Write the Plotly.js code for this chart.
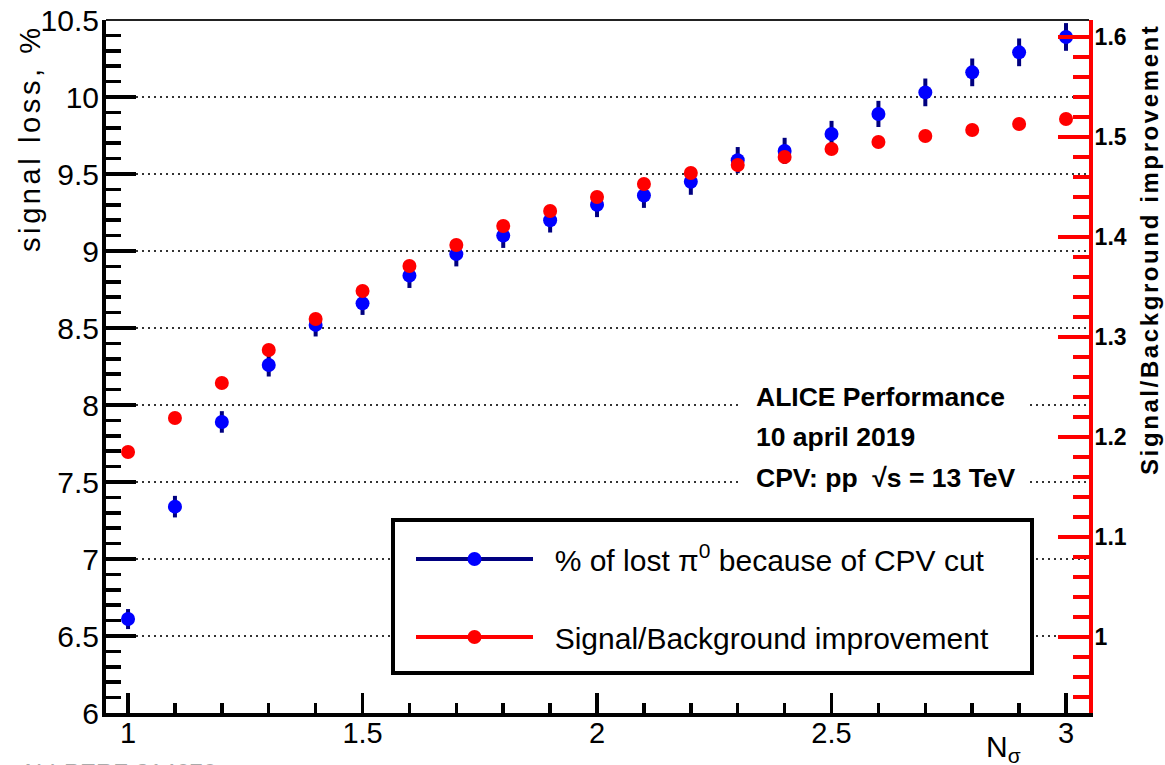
<!DOCTYPE html>
<html>
<head>
<meta charset="utf-8">
<script src="https://cdn.plot.ly/plotly-3.0.1.min.js"></script>
<style>
html,body{margin:0;padding:0;background:#fff;}
#chart{width:1165px;height:765px;}
</style>
</head>
<body>
<div id="chart"></div>
<script>
// ---- data ----
const nSigma = [1.0, 1.1, 1.2, 1.3, 1.4, 1.5, 1.6, 1.7, 1.8, 1.9, 2.0, 2.1, 2.2, 2.3, 2.4, 2.5, 2.6, 2.7, 2.8, 2.9, 3.0];
const signalLoss = [6.61, 7.34, 7.89, 8.26, 8.52, 8.66, 8.84, 8.98, 9.10, 9.20, 9.30, 9.36, 9.45, 9.59, 9.65, 9.76, 9.89, 10.03, 10.16, 10.29, 10.39];
const signalLossErr = [0.065, 0.07, 0.07, 0.075, 0.075, 0.075, 0.08, 0.08, 0.08, 0.08, 0.08, 0.08, 0.085, 0.085, 0.085, 0.085, 0.085, 0.09, 0.09, 0.09, 0.09];
const sbImprovement = [1.185, 1.219, 1.254, 1.287, 1.318, 1.346, 1.371, 1.392, 1.411, 1.426, 1.440, 1.453, 1.464, 1.472, 1.480, 1.488, 1.495, 1.501, 1.507, 1.513, 1.518];

const xTickVals = [1, 1.5, 2, 2.5, 3];
const xTickText = ["1", "1.5", "2", "2.5", "3"];
const yTickVals = [6, 6.5, 7, 7.5, 8, 8.5, 9, 9.5, 10, 10.5];
const yTickText = ["6", "6.5", "7", "7.5", "8", "8.5", "9", "9.5", "10", "10.5"];
const y2TickVals = [1.0, 1.1, 1.2, 1.3, 1.4, 1.5, 1.6];
const y2TickText = ["1", "1.1", "1.2", "1.3", "1.4", "1.5", "1.6"];

const seriesNames = ["% of lost \u03c0<sup>0</sup> because of CPV cut", "Signal/Background improvement"];
const labelTexts = ["<b>ALICE Performance</b>", "<b>10 april 2019</b>", "<b>CPV: pp  \u221as = 13 TeV</b>"];

// ---- geometry (pixels of the 1165x765 page) ----
const W = 1165, H = 765;
const L = 106, R = 1089, T = 20, B = 713;
const px = v => (v - L) / (R - L);
const py = v => (B - v) / (B - T);

const FONT = "Liberation Sans, Arial, Helvetica, sans-serif";
const PAD = "\u00a0\u00a0";

const traces = [
  {
    x: nSigma, y: signalLoss, type: "scatter", mode: "markers",
    marker: {color: "#0000ff", size: 14, line: {width: 0}},
    error_y: {type: "data", array: signalLossErr, visible: true, color: "#000080", thickness: 4, width: 0},
    showlegend: false, xaxis: "x", yaxis: "y"
  },
  {
    x: nSigma, y: sbImprovement, type: "scatter", mode: "markers",
    marker: {color: "#ff0000", size: 14, line: {width: 0}},
    showlegend: false, xaxis: "x", yaxis: "y2"
  },
  // legend entries
  {
    x: [null], y: [null], type: "scatter", mode: "lines+markers", name: PAD + seriesNames[0],
    line: {color: "#000080", width: 4}, marker: {color: "#0000ff", size: 14},
    legendgroup: "a", showlegend: true
  },
  {
    x: [null], y: [null], type: "scatter", mode: "lines+markers", name: PAD + seriesNames[1],
    line: {color: "#ff0000", width: 4}, marker: {color: "#ff0000", size: 14},
    legendgroup: "b", showlegend: true
  }
];

const layout = {
  width: W, height: H,
  margin: {l: L, r: W - R, t: T, b: H - B, pad: 0},
  paper_bgcolor: "#ffffff", plot_bgcolor: "#ffffff",
  font: {family: FONT, color: "#000000", size: 29},
  showlegend: true,
  xaxis: {
    range: [0.953, 3.049], tickmode: "array", tickvals: xTickVals, ticktext: xTickText,
    ticks: "inside", ticklen: 20, tickwidth: 3.5, tickcolor: "#000",
    showline: true, linewidth: 4, linecolor: "#000", showgrid: false, zeroline: false,
    tickfont: {size: 29, family: FONT}, ticklabelstandoff: -9,
    minor: {dtick: 0.1, tick0: 0, ticks: "inside", ticklen: 10, tickwidth: 3.5, tickcolor: "#000", showgrid: false}
  },
  yaxis: {
    range: [6, 10.5], tickmode: "array", tickvals: yTickVals, ticktext: yTickText,
    ticks: "inside", ticklen: 30, tickwidth: 3.5, tickcolor: "#000",
    showline: true, linewidth: 4, linecolor: "#000", zeroline: false,
    showgrid: true, gridcolor: "#333", gridwidth: 1.5, griddash: "2px,4px",
    tickfont: {size: 30, family: FONT}, ticklabelstandoff: -3,
    minor: {dtick: 0.1, tick0: 0, ticks: "inside", ticklen: 15, tickwidth: 3.5, tickcolor: "#000", showgrid: false}
  },
  yaxis2: {
    overlaying: "y", side: "right", anchor: "x",
    range: [0.924, 1.617], tickmode: "array", tickvals: y2TickVals, ticktext: y2TickText,
    ticks: "inside", ticklen: 31, tickwidth: 3.5, tickcolor: "#ff0000",
    showline: true, linewidth: 4, linecolor: "#ff0000", zeroline: false, showgrid: false,
    tickfont: {size: 23, family: FONT, weight: "bold"}, ticklabelstandoff: -3,
    minor: {dtick: 0.02, tick0: 0, ticks: "inside", ticklen: 16, tickwidth: 3.5, tickcolor: "#ff0000", showgrid: false}
  },
  legend: {
    x: px(411), y: py(533), xanchor: "left", yanchor: "top",
    bgcolor: "rgba(0,0,0,0)", borderwidth: 0,
    font: {size: 30, family: FONT, color: "#000"},
    itemwidth: 117, tracegroupgap: 36, traceorder: "grouped"
  },
  shapes: [
    // top frame line
    {type: "line", xref: "paper", yref: "paper", x0: 0, x1: 1, y0: 1, y1: 1, line: {color: "#222", width: 2}, layer: "above"},
    // white box behind the performance label
    {type: "rect", xref: "paper", yref: "paper", x0: px(742), x1: px(1030), y0: py(500), y1: py(372), fillcolor: "#ffffff", line: {width: 0}, layer: "above"},
    // legend frame
    {type: "rect", xref: "paper", yref: "paper", x0: px(393), x1: px(1032), y0: py(673), y1: py(520), fillcolor: "#ffffff", line: {color: "#000", width: 4}, layer: "above"}
  ],
  annotations: [
    {xref: "paper", yref: "paper", x: px(30), y: py(138), text: '<span style="letter-spacing:3.6px">signal loss, %</span>', textangle: -90, showarrow: false, xanchor: "center", yanchor: "middle", font: {size: 29, family: FONT}},
    {xref: "paper", yref: "paper", x: px(1149), y: py(250), text: '<span style="letter-spacing:2.6px"><b>Signal/Background improvement</b></span>', textangle: -90, showarrow: false, xanchor: "center", yanchor: "middle", font: {size: 24, family: FONT}},
    {xref: "paper", yref: "paper", x: px(1003), y: py(748), text: "N<sub>\u03c3</sub>", showarrow: false, xanchor: "center", yanchor: "middle", font: {size: 30, family: FONT}},
    {xref: "paper", yref: "paper", x: px(754), y: py(397), text: labelTexts[0], showarrow: false, xanchor: "left", yanchor: "middle", font: {size: 26.5, family: FONT}},
    {xref: "paper", yref: "paper", x: px(754), y: py(437), text: labelTexts[1], showarrow: false, xanchor: "left", yanchor: "middle", font: {size: 26.5, family: FONT}},
    {xref: "paper", yref: "paper", x: px(754), y: py(478), text: labelTexts[2], showarrow: false, xanchor: "left", yanchor: "middle", font: {size: 26.5, family: FONT}},
    {xref: "paper", yref: "paper", x: px(18), y: py(757), text: "ALI-PERF-314676", showarrow: false, xanchor: "left", yanchor: "top", font: {size: 24, family: FONT, color: "#aaaaaa"}}
  ]
};

Plotly.newPlot("chart", traces, layout, {displayModeBar: false, staticPlot: true});
</script>
</body>
</html>
